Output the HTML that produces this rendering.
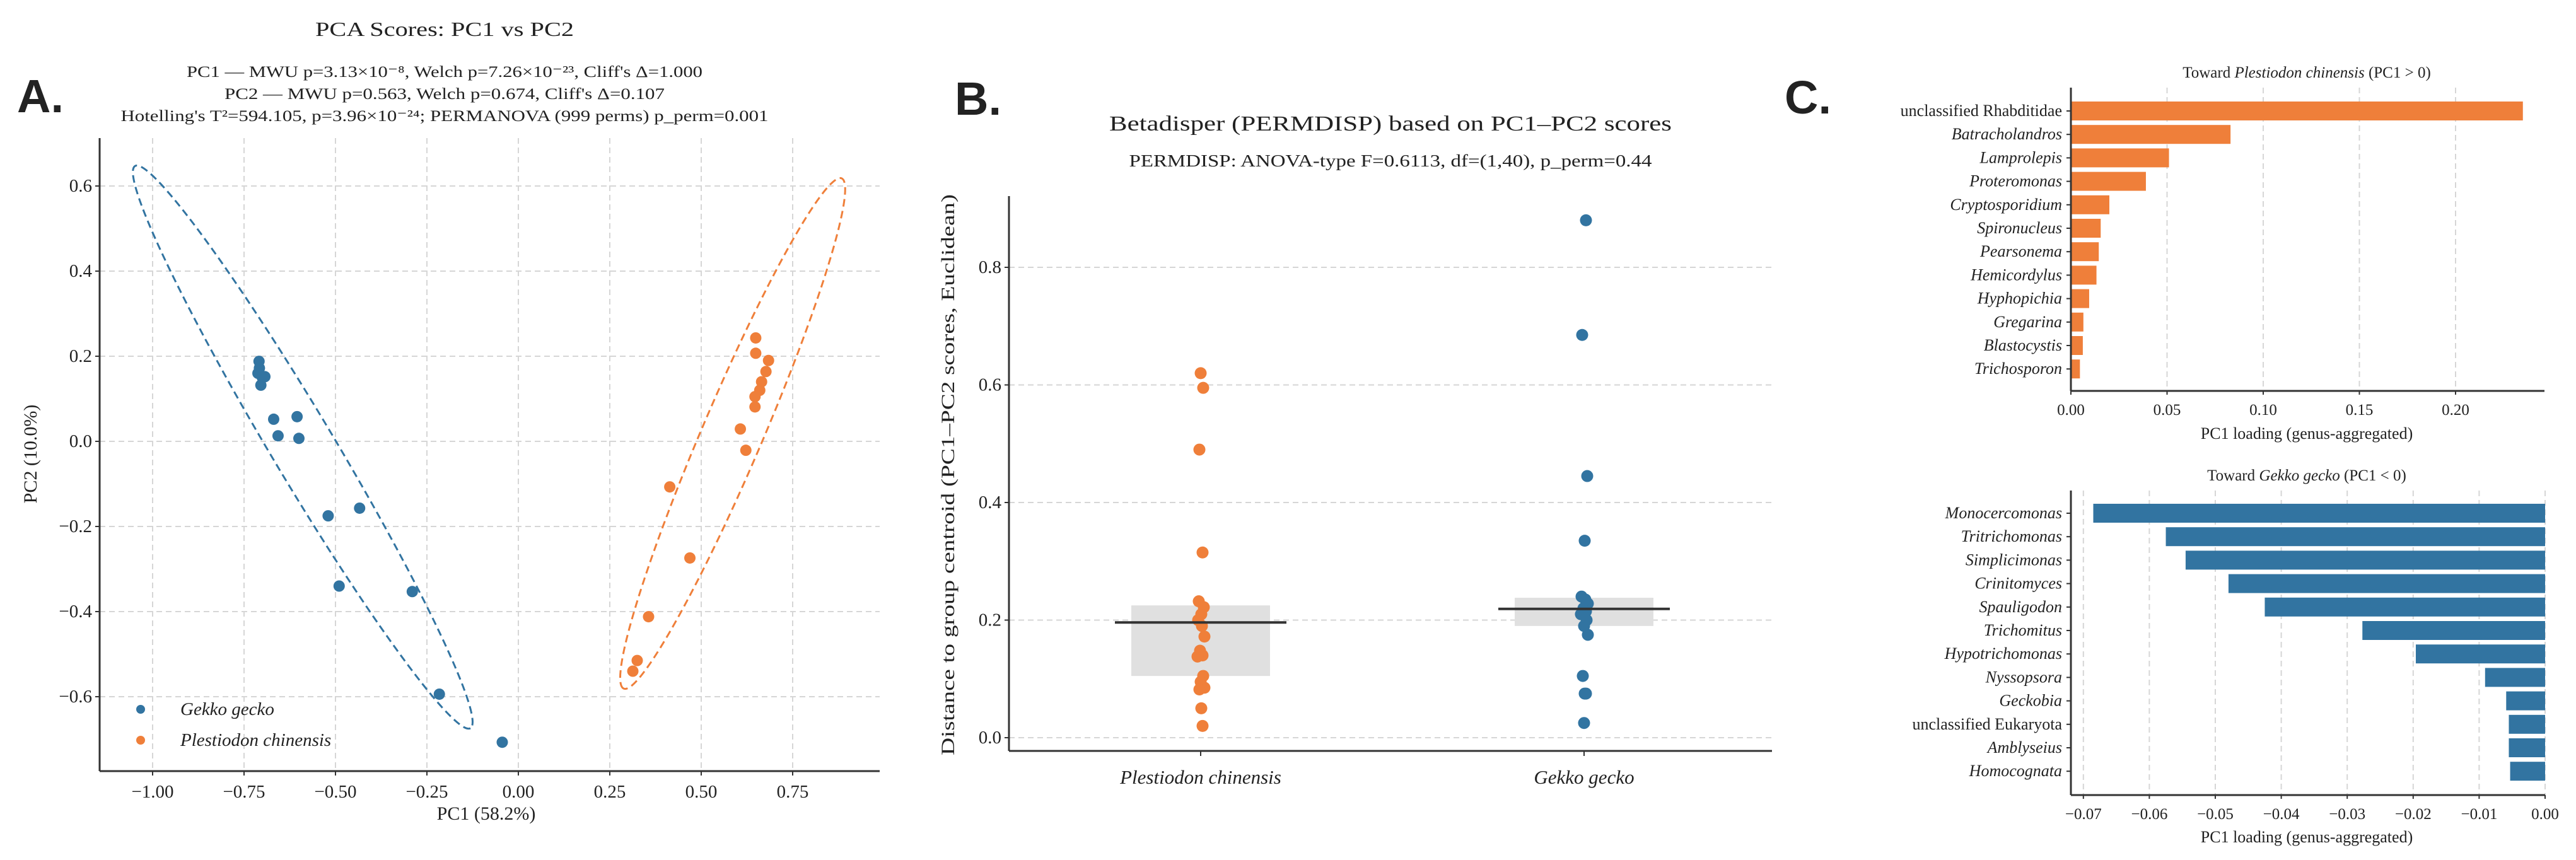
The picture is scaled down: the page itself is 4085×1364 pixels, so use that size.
<!DOCTYPE html>
<html><head><meta charset="utf-8"><style>
html,body{margin:0;padding:0;background:#fff}
svg{display:block}
text{font-family:"Liberation Serif",serif;fill:#222}
.lbl{font-family:"Liberation Sans",sans-serif;font-weight:bold;fill:#222}
</style></head><body>
<svg id="fig" width="4085" height="1364" viewBox="0 0 4085 1364" xmlns="http://www.w3.org/2000/svg">
<g id="pA"></g>
<g id="pB"></g>
<g id="pC"></g>
</svg>
<script>
const BLUE="#3274a1", ORANGE="#ef7f3a";
// ---- Panel A data ----
const gekkoPC1=[-0.709,-0.708,-0.712,-0.700,-0.693,-0.704,-0.669,-0.605,-0.657,-0.600,-0.520,-0.434,-0.490,-0.290,-0.216,-0.044];
const gekkoPC2=[0.188,0.172,0.160,0.150,0.152,0.132,0.052,0.058,0.013,0.007,-0.175,-0.157,-0.340,-0.353,-0.594,-0.707];
const plesPC1=[0.649,0.649,0.684,0.677,0.665,0.660,0.647,0.647,0.607,0.622,0.414,0.469,0.356,0.325,0.313];
const plesPC2=[0.243,0.207,0.190,0.164,0.140,0.120,0.105,0.081,0.029,-0.021,-0.107,-0.274,-0.412,-0.515,-0.540];
const ellGekko=[[-1.048,0.647],[-0.131,-0.674]];
const ellPles=[[0.884,0.618],[0.288,-0.581]];
const xTicksA=[-1.00,-0.75,-0.50,-0.25,0.00,0.25,0.50,0.75];
const yTicksA=[-0.6,-0.4,-0.2,0.0,0.2,0.4,0.6];
// ---- Panel B data ----
const bCats=["Plestiodon chinensis","Gekko gecko"];
const plesDist=[0.62,0.595,0.49,0.315,0.232,0.222,0.21,0.2,0.19,0.172,0.148,0.14,0.138,0.105,0.095,0.085,0.082,0.05,0.02];
const gekkoDist=[0.88,0.685,0.445,0.335,0.24,0.235,0.228,0.22,0.215,0.21,0.2,0.19,0.175,0.105,0.075,0.075,0.025];
const bMeans=[0.196,0.219];
const bLow=[0.105,0.19];
const bHigh=[0.225,0.238];
const yTicksB=[0.0,0.2,0.4,0.6,0.8];
// ---- Panel C data ----
const posGenera=["unclassified  Rhabditidae","Batracholandros","Lamprolepis","Proteromonas","Cryptosporidium","Spironucleus","Pearsonema","Hemicordylus","Hyphopichia","Gregarina","Blastocystis","Trichosporon"];
const posLoad=[0.235,0.083,0.051,0.039,0.020,0.0155,0.0145,0.0133,0.0095,0.0065,0.0062,0.0047];
const negGenera=["Monocercomonas","Tritrichomonas","Simplicimonas","Crinitomyces","Spauligodon","Trichomitus","Hypotrichomonas","Nyssopsora","Geckobia","unclassified Eukaryota","Amblyseius","Homocognata"];
const negLoad=[-0.0685,-0.0575,-0.0545,-0.048,-0.0425,-0.0277,-0.0196,-0.0091,-0.0059,-0.0055,-0.0055,-0.0053];
const xTicksC1=[0.00,0.05,0.10,0.15,0.20];
const xTicksC2=[-0.07,-0.06,-0.05,-0.04,-0.03,-0.02,-0.01,0.00];

const NS="http://www.w3.org/2000/svg";
function mk(parent,tag,attrs,txt){const e=document.createElementNS(NS,tag);for(const k in attrs)e.setAttribute(k,attrs[k]);if(txt!==undefined)e.textContent=txt;parent.appendChild(e);return e;}
const fmt=(v,d)=>{const s=Math.abs(v).toFixed(d);return (v<-1e-9?"\u2212":"")+s;};

// ================= PANEL A =================
const A=document.getElementById('pA');
const xA=v=>822+v*580, yA=v=>700-v*675;
const AL=158,AR=1395,AT=219,AB=1223;
let t;
t=mk(A,'text',{x:27,y:178,'font-size':74,class:'lbl'},'A.');

t=mk(A,'text',{x:705,y:57,'font-size':32,'text-anchor':'middle',textLength:410,lengthAdjust:'spacingAndGlyphs'},'PCA Scores: PC1 vs PC2');

const subA=[["PC1 \u2014 MWU p=3.13\u00d710\u207b\u2078, Welch p=7.26\u00d710\u207b\u00b2\u00b3, Cliff's \u0394=1.000",122,818],["PC2 \u2014 MWU p=0.563, Welch p=0.674, Cliff's \u0394=0.107",157,698],["Hotelling's T\u00b2=594.105, p=3.96\u00d710\u207b\u00b2\u2074; PERMANOVA (999 perms) p_perm=0.001",192,1027]];
subA.forEach((s,i)=>{t=mk(A,'text',{x:705,y:s[1],'font-size':25,'text-anchor':'middle',textLength:s[2],lengthAdjust:'spacingAndGlyphs'},s[0]);
});
xTicksA.forEach(v=>{t=mk(A,'line',{x1:xA(v),x2:xA(v),y1:AT,y2:AB,stroke:'#d6d6d6','stroke-width':2,'stroke-dasharray':'9,6'});

t=mk(A,'text',{x:xA(v),y:AB+42,'font-size':29,'text-anchor':'middle'},fmt(v,2));

mk(A,'line',{x1:xA(v),x2:xA(v),y1:AB,y2:AB+7,stroke:'#333','stroke-width':2});});
yTicksA.forEach(v=>{t=mk(A,'line',{x1:AL,x2:AR,y1:yA(v),y2:yA(v),stroke:'#d6d6d6','stroke-width':2,'stroke-dasharray':'9,6'});

t=mk(A,'text',{x:AL-12,y:yA(v)+9,'font-size':29,'text-anchor':'end'},fmt(v,1));

mk(A,'line',{x1:AL-7,x2:AL,y1:yA(v),y2:yA(v),stroke:'#333','stroke-width':2});});
t=mk(A,'line',{x1:AL,x2:AL,y1:AT,y2:AB,stroke:'#333','stroke-width':3});
t=mk(A,'line',{x1:AL,x2:AR,y1:AB,y2:AB,stroke:'#333','stroke-width':3});
t=mk(A,'text',{x:771,y:1300,'font-size':30,'text-anchor':'middle'},'PC1 (58.2%)');
t=mk(A,'text',{x:0,y:0,'font-size':30,'text-anchor':'middle',transform:'translate(58,720) rotate(-90)'},'PC2 (10.0%)');
function ellipse(e,minor,col,name){const x1=xA(e[0][0]),y1=yA(e[0][1]),x2=xA(e[1][0]),y2=yA(e[1][1]);
const cx=(x1+x2)/2,cy=(y1+y2)/2,rx=Math.hypot(x2-x1,y2-y1)/2,ang=Math.atan2(y2-y1,x2-x1)*180/Math.PI;
const el=mk(A,'ellipse',{cx:cx,cy:cy,rx:rx,ry:minor,transform:`rotate(${ang} ${cx} ${cy})`,fill:'none',stroke:col,'stroke-width':3,'stroke-dasharray':'12,7'});
}
ellipse(ellGekko,50,BLUE,'gekko-confidence-ellipse');
ellipse(ellPles,48,ORANGE,'plestiodon-confidence-ellipse');
gekkoPC1.forEach((v,i)=>{const c=mk(A,'circle',{cx:xA(v),cy:yA(gekkoPC2[i]),r:9,fill:BLUE});
});
plesPC1.forEach((v,i)=>{const c=mk(A,'circle',{cx:xA(v),cy:yA(plesPC2[i]),r:9,fill:ORANGE});
});
t=mk(A,'circle',{cx:223,cy:1125,r:7,fill:BLUE});
t=mk(A,'text',{x:286,y:1134,'font-size':29,'font-style':'italic'},'Gekko gecko');
t=mk(A,'circle',{cx:223,cy:1174,r:7,fill:ORANGE});
t=mk(A,'text',{x:286,y:1183,'font-size':29,'font-style':'italic'},'Plestiodon chinensis');

// ================= PANEL B =================
const B=document.getElementById('pB');
const yB=v=>1170-v*932.5;
const catX=[1904,2512];
const BL=1600,BR=2810,BT=311,BBt=1191;
t=mk(B,'text',{x:1514,y:182,'font-size':74,class:'lbl'},'B.');
t=mk(B,'text',{x:2205,y:207,'font-size':34,'text-anchor':'middle',textLength:892,lengthAdjust:'spacingAndGlyphs'},'Betadisper (PERMDISP) based on PC1\u2013PC2 scores');
t=mk(B,'text',{x:2205,y:264,'font-size':27,'text-anchor':'middle',textLength:829,lengthAdjust:'spacingAndGlyphs'},'PERMDISP: ANOVA-type F=0.6113, df=(1,40), p_perm=0.44');
yTicksB.forEach(v=>{t=mk(B,'line',{x1:BL,x2:BR,y1:yB(v),y2:yB(v),stroke:'#d6d6d6','stroke-width':2,'stroke-dasharray':'9,6'});

t=mk(B,'text',{x:BL-12,y:yB(v)+9,'font-size':29,'text-anchor':'end'},v.toFixed(1));
mk(B,'line',{x1:BL-7,x2:BL,y1:yB(v),y2:yB(v),stroke:'#333','stroke-width':2});});
bCats.forEach((c,i)=>{const x=catX[i];
t=mk(B,'rect',{x:x-110,y:yB(bHigh[i]),width:220,height:yB(bLow[i])-yB(bHigh[i]),fill:'#e0e0e0'});
t=mk(B,'text',{x:x,y:1243,'font-size':31,'font-style':'italic','text-anchor':'middle'},c);
mk(B,'line',{x1:x,x2:x,y1:BBt,y2:BBt+8,stroke:'#333','stroke-width':2});});
const jit=[0,4,-2,3,-3,5,1,-4,2,6,-1,3,-5,4,0,6,-2,1,3];
plesDist.forEach((v,i)=>{const c=mk(B,'circle',{cx:catX[0]+jit[i%jit.length],cy:yB(v),r:9.5,fill:ORANGE});});
gekkoDist.forEach((v,i)=>{const c=mk(B,'circle',{cx:catX[1]+jit[(i+3)%jit.length],cy:yB(v),r:9.5,fill:BLUE});});
bCats.forEach((c,i)=>{t=mk(B,'line',{x1:catX[i]-136,x2:catX[i]+136,y1:yB(bMeans[i]),y2:yB(bMeans[i]),stroke:'#333','stroke-width':4});});
t=mk(B,'line',{x1:BL,x2:BL,y1:BT,y2:BBt,stroke:'#333','stroke-width':3});
t=mk(B,'line',{x1:BL,x2:BR,y1:BBt,y2:BBt,stroke:'#333','stroke-width':3});
t=mk(B,'text',{x:0,y:0,'font-size':30,'text-anchor':'middle',transform:'translate(1513,753) rotate(-90)',textLength:890,lengthAdjust:'spacingAndGlyphs'},'Distance to group centroid (PC1\u2013PC2 scores, Euclidean)');

// ================= PANEL C =================
const C=document.getElementById('pC');
t=mk(C,'text',{x:2830,y:180,'font-size':74,class:'lbl'},'C.');
function barPanel(o){
 const {names,vals,ticks,xf,L,R,T,Bt,y0,step,col,title,titleY,xlabY,pre,dec}=o;
 ticks.forEach(v=>{t=mk(C,'line',{x1:xf(v),x2:xf(v),y1:T,y2:Bt,stroke:'#d6d6d6','stroke-width':2,'stroke-dasharray':'9,6'});
  t=mk(C,'text',{x:xf(v),y:Bt+38,'font-size':25,'text-anchor':'middle'},fmt(v,dec));
  mk(C,'line',{x1:xf(v),x2:xf(v),y1:Bt,y2:Bt+6,stroke:'#333','stroke-width':2});});
 names.forEach((n,i)=>{const y=y0+i*step,v=vals[i];const a=Math.min(xf(0),xf(v)),w=Math.abs(xf(v)-xf(0));
  const r=mk(C,'rect',{x:a,y:y-15,width:w,height:30,fill:col});
  mk(C,'line',{x1:L-7,x2:L,y1:y,y2:y,stroke:'#333','stroke-width':2});
  const it=n.indexOf('unclassified')!==0;
  t=mk(C,'text',{x:L-14,y:y+8,'font-size':26,'text-anchor':'end','font-style':it?'italic':'normal'},n);});
 t=mk(C,'line',{x1:L,x2:L,y1:T,y2:Bt,stroke:'#333','stroke-width':3});
 t=mk(C,'line',{x1:L,x2:R,y1:Bt,y2:Bt,stroke:'#333','stroke-width':3});
 const tt=mk(C,'text',{x:3658,y:titleY,'font-size':25,'text-anchor':'middle'});
 mk(tt,'tspan',{},'Toward ');mk(tt,'tspan',{'font-style':'italic'},title[0]);mk(tt,'tspan',{},title[1]);
 t=mk(C,'text',{x:3658,y:xlabY,'font-size':26,'text-anchor':'middle'},'PC1 loading (genus-aggregated)');
}
barPanel({names:posGenera,vals:posLoad,ticks:xTicksC1,xf:v=>3284+v*3050,L:3284,R:4035,T:139,Bt:620,y0:176,step:37.2,col:ORANGE,title:['Plestiodon chinensis',' (PC1 > 0)'],titleY:123,xlabY:696,pre:'positive',dec:2});
barPanel({names:negGenera,vals:negLoad,ticks:xTicksC2,xf:v=>4036+v*10460,L:3284,R:4036,T:778,Bt:1261,y0:814,step:37.2,col:BLUE,title:['Gekko gecko',' (PC1 < 0)'],titleY:762,xlabY:1336,pre:'negative',dec:2});
</script>
</body></html>
